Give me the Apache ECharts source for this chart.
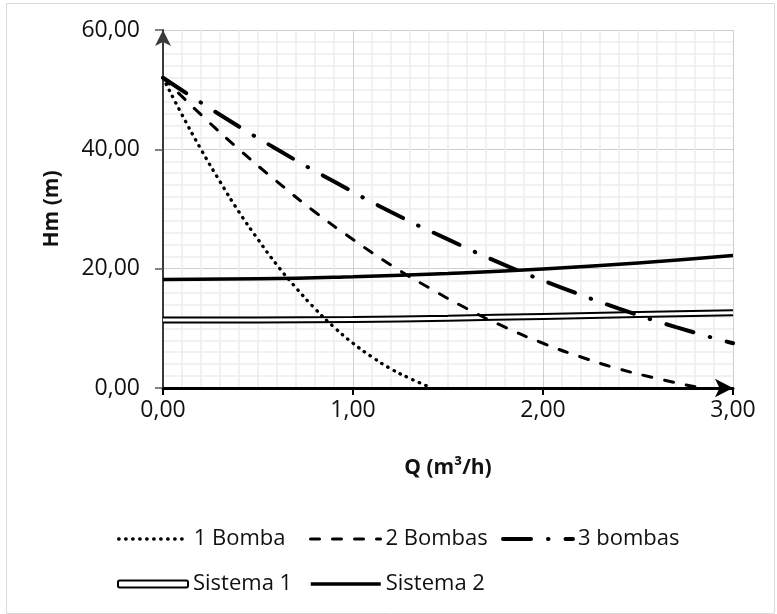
<!DOCTYPE html>
<html>
<head>
<meta charset="utf-8">
<script src="https://cdn.jsdelivr.net/npm/echarts@6/dist/echarts.min.js"></script>
<style>
  html, body { margin: 0; padding: 0; background: #fff; }
  #chart { width: 777px; height: 614px; }
</style>
</head>
<body>
<div id="chart"></div>
<script>
// caudal Q (m3/h) y altura Hm (m)
const q1Bomba = [0, 0.1, 0.2, 0.3, 0.4, 0.5, 0.6, 0.7, 0.8, 0.9, 1.0, 1.1, 1.2, 1.3, 1.4];
const h1Bomba = [52, 45.8, 40.0, 34.6, 29.5, 24.9, 20.6, 16.8, 13.3, 10.2, 7.5, 5.2, 3.2, 1.6, 0.2];

const q2Bombas = [0, 0.2, 0.4, 0.6, 0.8, 1.0, 1.2, 1.4, 1.6, 1.8, 2.0, 2.2, 2.4, 2.6, 2.8];
const h2Bombas = [52, 45.8, 40.0, 34.6, 29.5, 24.9, 20.6, 16.8, 13.3, 10.2, 7.5, 5.2, 3.2, 1.6, 0.2];

const q3Bombas = [0, 0.3, 0.6, 0.9, 1.2, 1.5, 1.8, 2.1, 2.4, 2.7, 3.0];
const h3Bombas = [52, 45.8, 40.0, 34.6, 29.5, 24.9, 20.6, 16.8, 13.3, 10.2, 7.5];

const qSistema = [0, 0.5, 1.0, 1.5, 2.0, 2.5, 3.0];
const hSistema1 = [11.4, 11.4, 11.5, 11.7, 12.0, 12.3, 12.6];
const hSistema2 = [18.2, 18.3, 18.65, 19.2, 19.95, 20.95, 22.2];

const pairs = (xs, ys) => xs.map((x, i) => [x, ys[i]]);
const fmt = v => v.toFixed(2).replace('.', ',');

const FONT = 'Open Sans';
const chart = echarts.init(document.getElementById('chart'));

const legendBase = {
  orient: 'horizontal',
  itemWidth: 70,
  itemHeight: 7,
  itemGap: 0,
  selectedMode: false,
  itemStyle: { opacity: 0 },
  lineStyle: { width: 'inherit' },
  textStyle: { fontFamily: FONT, fontSize: 22, color: '#111' }
};

chart.setOption({
  animation: false,
  backgroundColor: '#fff',
  graphic: [{
    type: 'rect',
    left: 4,
    top: 1,
    shape: { width: 768, height: 610 },
    style: { fill: 'none', stroke: '#d9d9d9', lineWidth: 1 },
    silent: true
  }],
  grid: {
    left: 163,
    right: 44,
    top: 30,
    bottom: 226
  },
  legend: [
    Object.assign({}, legendBase, { data: ['1 Bomba'], left: 112, top: 523 }),
    Object.assign({}, legendBase, { data: ['2 Bombas'], left: 304, top: 523 }),
    Object.assign({}, legendBase, { data: ['3 bombas'], left: 496, top: 523 }),
    Object.assign({}, legendBase, {
      data: [{
        name: 'Sistema 1',
        icon: 'roundRect',
        itemStyle: { color: '#fff', borderColor: '#000', borderWidth: 2, opacity: 1 }
      }],
      left: 112, top: 568
    }),
    Object.assign({}, legendBase, { data: ['Sistema 2'], left: 304, top: 568 })
  ],
  xAxis: {
    type: 'value',
    min: 0,
    max: 3,
    interval: 1,
    name: 'Q (m³/h)',
    nameLocation: 'middle',
    nameGap: 70,
    nameTextStyle: { fontFamily: FONT, fontSize: 21, fontWeight: 'bold', color: '#111' },
    axisLine: {
      show: true,
      onZero: false,
      symbol: ['none', 'arrow'],
      symbolSize: [14, 18],
      lineStyle: { color: '#000', width: 3 }
    },
    axisTick: { show: true, length: 7, lineStyle: { color: '#000', width: 2 } },
    axisLabel: {
      formatter: fmt,
      margin: 11,
      fontFamily: FONT, fontSize: 23, color: '#111'
    },
    splitLine: { show: true, lineStyle: { color: '#cfcfcf', width: 1 } },
    minorTick: { show: false, splitNumber: 10 },
    minorSplitLine: { show: true, lineStyle: { color: '#ededed', width: 1.5 } }
  },
  yAxis: {
    type: 'value',
    min: 0,
    max: 60,
    interval: 20,
    name: 'Hm (m)',
    nameLocation: 'middle',
    nameGap: 100,
    nameTextStyle: { fontFamily: FONT, fontSize: 21, fontWeight: 'bold', color: '#111' },
    axisLine: {
      show: true,
      symbol: ['none', 'arrow'],
      symbolSize: [12, 16],
      lineStyle: { color: '#3a3a3a', width: 2 }
    },
    axisTick: { show: true, length: 8, lineStyle: { color: '#595959', width: 1.5 } },
    axisLabel: {
      formatter: fmt,
      margin: 23,
      fontFamily: FONT, fontSize: 23, color: '#111'
    },
    splitLine: { show: true, lineStyle: { color: '#cfcfcf', width: 1 } },
    minorTick: { show: false, splitNumber: 10 },
    minorSplitLine: { show: true, lineStyle: { color: '#ededed', width: 1.5 } }
  },
  series: [{
    name: 'Sistema 1',
    type: 'line',
    symbol: 'none',
    smooth: true,
    lineStyle: { color: '#000', width: 7 },
    data: pairs(qSistema, hSistema1)
  }, {
    name: 'Sistema 1',
    type: 'line',
    symbol: 'none',
    smooth: true,
    lineStyle: { color: '#fff', width: 3 },
    data: pairs(qSistema, hSistema1)
  }, {
    name: 'Sistema 2',
    type: 'line',
    symbol: 'none',
    smooth: true,
    lineStyle: { color: '#000', width: 3.5 },
    data: pairs(qSistema, hSistema2)
  }, {
    name: '1 Bomba',
    type: 'line',
    symbol: 'none',
    smooth: true,
    lineStyle: { color: '#000', width: 3.3, type: [0.5, 6.5], cap: 'round' },
    data: pairs(q1Bomba, h1Bomba)
  }, {
    name: '2 Bombas',
    type: 'line',
    symbol: 'none',
    smooth: true,
    lineStyle: { color: '#000', width: 3, type: [9, 13], cap: 'round' },
    data: pairs(q2Bombas, h2Bombas)
  }, {
    name: '3 bombas',
    type: 'line',
    symbol: 'none',
    smooth: true,
    lineStyle: { color: '#000', width: 4, type: [28, 17, 0.5, 17], cap: 'round' },
    data: pairs(q3Bombas, h3Bombas)
  }]
});
</script>
</body>
</html>
